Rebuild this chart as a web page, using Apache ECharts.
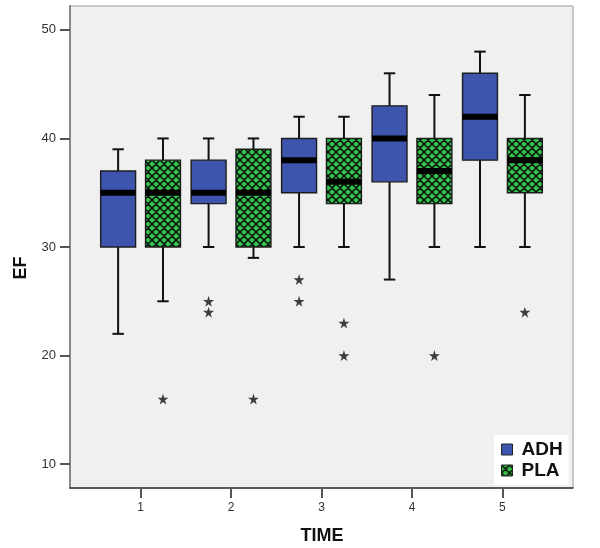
<!DOCTYPE html>
<html><head><meta charset="utf-8">
<script src="https://cdn.jsdelivr.net/npm/echarts@6/dist/echarts.min.js"></script>
<style>html,body{margin:0;padding:0;background:#fff}#c{width:600px;height:548px}</style>
</head><body><div id="c"></div>
<script>
// ---- data ----
const times = [1, 2, 3, 4, 5];
// [min, Q1, median, Q3, max] per time
const adhStats = [[22,30,35,37,39],[30,34,35,38,40],[30,35,38,40,42],[27,36,40,43,46],[30,38,42,46,48]];
const plaStats = [[25,30,35,38,40],[29,30,35,39,40],[30,34,36,40,42],[30,34,37,40,44],[30,35,38,40,44]];
// [time, value]
const adhOutliers = [[2,25],[2,24],[3,27],[3,25]];
const plaOutliers = [[1,16],[2,16],[3,23],[3,20],[4,20],[5,24]];
const yTicks = [10, 20, 30, 40, 50];
const seriesNames = ['ADH', 'PLA'];

const BLUE = '#3d55ad';
function makeHatch() {
  const s = 8, c = document.createElement('canvas');
  c.width = s; c.height = s;
  const g = c.getContext('2d');
  g.fillStyle = '#33c24a'; g.fillRect(0, 0, s, s);
  g.strokeStyle = '#0b0b0b'; g.lineWidth = 1.5;
  g.beginPath();
  for (const o of [-s, 0, s]) {
    g.moveTo(o - 1, -1); g.lineTo(o + s + 1, s + 1);
    g.moveTo(o + s + 1, -1); g.lineTo(o - 1, s + 1);
  }
  g.stroke();
  return c;
}
const HATCH = { image: makeHatch(), repeat: 'repeat' };

const OFF = 0.248, HALF = 0.193, CAP = 0.063;
function makeRender(offset, fill) {
  return function (params, api) {
    const t = api.value(0) + offset;
    const mn = api.value(1), q1 = api.value(2), md = api.value(3), q3 = api.value(4), mx = api.value(5);
    const tl = api.coord([t - HALF, q3]), br = api.coord([t + HALF, q1]);
    const cx = api.coord([t, md])[0];
    const yMax = api.coord([t, mx])[1], yMin = api.coord([t, mn])[1], yMd = api.coord([t, md])[1];
    const cl = api.coord([t - CAP, mx])[0], cr = api.coord([t + CAP, mx])[0];
    const ls = { stroke: '#111', lineWidth: 2 };
    return {
      type: 'group',
      children: [
        { type: 'line', shape: { x1: cx, y1: yMax, x2: cx, y2: tl[1] }, style: ls },
        { type: 'line', shape: { x1: cx, y1: br[1], x2: cx, y2: yMin }, style: ls },
        { type: 'line', shape: { x1: cl, y1: yMax, x2: cr, y2: yMax }, style: ls },
        { type: 'line', shape: { x1: cl, y1: yMin, x2: cr, y2: yMin }, style: ls },
        { type: 'rect', shape: { x: tl[0], y: tl[1], width: br[0] - tl[0], height: br[1] - tl[1] },
          style: { fill: fill, stroke: '#1c1c1c', lineWidth: 1.4 } },
        { type: 'rect', shape: { x: tl[0], y: yMd - 3, width: br[0] - tl[0], height: 6 },
          style: { fill: '#000' } }
      ]
    };
  };
}

const STAR = 'path://M50,0 L61,35 L98,35 L68,57 L79,91 L50,70 L21,91 L32,57 L2,35 L39,35 Z';

const chart = echarts.init(document.getElementById('c'), null, { renderer: 'canvas' });
const option = {
  animation: false,
  textStyle: { fontFamily: 'Liberation Sans, Arial, sans-serif' },
  grid: { left: 70, right: 27, top: 6, bottom: 60, show: true, backgroundColor: '#f0f0f0', borderColor: '#999', borderWidth: 1 },
  xAxis: {
    type: 'value', min: 0.22, max: 5.78,
    axisLine: { show: true, onZero: false, lineStyle: { color: '#333', width: 1.5 } },
    axisTick: { show: true, customValues: times, length: 10, lineStyle: { color: '#555', width: 2 } },
    axisLabel: { customValues: times, margin: 14, fontSize: 12, color: '#333' },
    splitLine: { show: false }
  },
  yAxis: {
    type: 'value', min: 7.8, max: 52.2,
    axisLine: { show: true, lineStyle: { color: '#888', width: 2 } },
    axisTick: { show: true, customValues: yTicks, length: 10, lineStyle: { color: '#555', width: 2 } },
    axisLabel: { customValues: yTicks, margin: 14, fontSize: 13, color: '#333' },
    splitLine: { show: false }
  },
  legend: {
    left: 494, top: 435, orient: 'vertical', backgroundColor: '#fff',
    padding: [5, 6, 5, 7], itemWidth: 11, itemHeight: 11, itemGap: 2, selectedMode: false,
    textStyle: { fontSize: 19, fontWeight: 'bold', color: '#111', padding: [0, 0, 0, 4], fontFamily: 'Liberation Sans, Arial, sans-serif' },
    data: [
      { name: 'ADH', icon: 'rect', itemStyle: { color: BLUE, borderColor: '#222', borderWidth: 1 } },
      { name: 'PLA', icon: 'rect', itemStyle: { color: HATCH, borderColor: '#222', borderWidth: 1 } }
    ]
  },
  graphic: [
    { type: 'text', x: 21, y: 268, rotation: Math.PI / 2,
      style: { text: 'EF', font: 'bold 18px Liberation Sans, Arial, sans-serif', fill: '#111', align: 'center', verticalAlign: 'middle' } },
    { type: 'text', x: 322, y: 536,
      style: { text: 'TIME', font: 'bold 18px Liberation Sans, Arial, sans-serif', fill: '#111', align: 'center', verticalAlign: 'middle' } }
  ],
  series: [
    { name: seriesNames[0], type: 'custom', itemStyle: { color: BLUE },
      renderItem: makeRender(-OFF, BLUE), encode: { x: 0, y: [1, 2, 3, 4, 5] },
      data: times.map((t, i) => [t].concat(adhStats[i])) },
    { name: seriesNames[1], type: 'custom', itemStyle: { color: HATCH },
      renderItem: makeRender(OFF, HATCH), encode: { x: 0, y: [1, 2, 3, 4, 5] },
      data: times.map((t, i) => [t].concat(plaStats[i])) },
    { name: 'ADH outliers', type: 'scatter', symbol: STAR, symbolSize: 11, itemStyle: { color: '#111' },
      data: adhOutliers.map(d => [d[0] - OFF, d[1]]) },
    { name: 'PLA outliers', type: 'scatter', symbol: STAR, symbolSize: 11, itemStyle: { color: '#111' },
      data: plaOutliers.map(d => [d[0] + OFF, d[1]]) }
  ]
};
chart.setOption(option);
</script>
</body></html>
